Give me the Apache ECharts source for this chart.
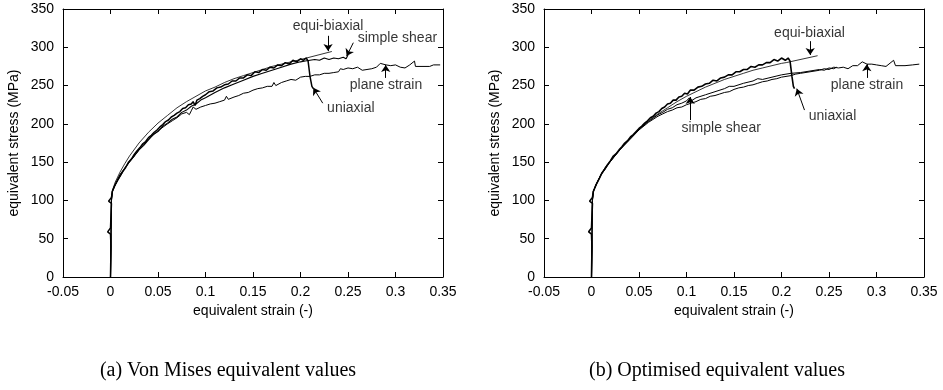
<!DOCTYPE html>
<html><head><meta charset="utf-8">
<script src="https://cdn.jsdelivr.net/npm/echarts@6/dist/echarts.min.js"></script>
<style>html,body{margin:0;padding:0;background:#fff}#c{width:943px;height:390px}</style>
</head><body><div id="c"></div>
<script>
// ---- axis ticks ----
var xTicks = [-0.05, 0, 0.05, 0.1, 0.15, 0.2, 0.25, 0.3, 0.35];
var yTicks = [0, 50, 100, 150, 200, 250, 300, 350];
var xName = 'equivalent strain (-)';
var yName = 'equivalent stress (MPa)';
var captions = ['(a) Von Mises equivalent values', '(b) Optimised equivalent values'];
var curveNames = ['uniaxial', 'equi-biaxial', 'simple shear', 'plane strain'];

// ---- (a) Von Mises equivalent values : [strain, stress] ----
var vmUniaxial = [[0,0],[0.0005,40],[0,56],[-0.003,59],[0,64],[0.001,96],[-0.002,99],[0.001,104],[0.002,112],[0.004,118],[0.006,123],[0.008,128],[0.01,132],[0.013,138],[0.016,143],[0.019,150],[0.022,154],[0.025,160],[0.028,165],[0.031,169],[0.034,174],[0.037,177],[0.04,182],[0.043,185],[0.046,189],[0.049,192],[0.052,196],[0.055,199],[0.058,203],[0.061,205],[0.064,209],[0.067,211],[0.07,214],[0.073,216],[0.076,220],[0.079,221],[0.082,225],[0.085,226],[0.087,229],[0.089,224],[0.091,231],[0.094,233],[0.097,236],[0.1,238],[0.104,242],[0.108,243],[0.112,247],[0.116,248],[0.12,251],[0.124,252],[0.128,256],[0.132,256],[0.136,260],[0.14,260],[0.144,264],[0.148,263],[0.152,268],[0.156,267],[0.16,271],[0.164,270],[0.168,274],[0.172,273],[0.176,277],[0.18,276],[0.184,280],[0.188,278],[0.192,283],[0.196,281],[0.2,285],[0.203,283],[0.206,286],[0.208,282],[0.21,262],[0.212,249],[0.2135,246]];
var vmEquibiaxial = [[0,0],[0.001,100],[0.002,113],[0.005,124],[0.01,137],[0.015,148],[0.02,158],[0.03,175],[0.04,189],[0.05,201],[0.06,211],[0.07,221],[0.08,229],[0.09,236],[0.1,243],[0.11,248],[0.12,254],[0.13,259],[0.14,263],[0.15,267],[0.16,271],[0.17,275],[0.18,278],[0.19,281],[0.2,284],[0.233,294.5]];
var vmShear = [[0,0],[0.001,100],[0.002,112],[0.005,121],[0.01,131],[0.015,142],[0.02,151],[0.025,158],[0.03,166],[0.035,172],[0.04,179],[0.045,186],[0.05,190],[0.055,197],[0.06,201],[0.065,206],[0.07,209],[0.075,215],[0.08,218],[0.085,223],[0.09,226],[0.095,231],[0.1,234],[0.11,241],[0.12,247],[0.13,252],[0.14,257],[0.15,262],[0.16,266],[0.17,270],[0.18,274],[0.19,278],[0.2,281],[0.205,282],[0.21,283],[0.215,284],[0.22,283],[0.225,286],[0.23,284],[0.235,286],[0.24,285],[0.245,287],[0.248,285],[0.25,290]];
var vmPlane = [[0,0],[0.001,100],[0.002,112],[0.01,134],[0.02,150],[0.03,166],[0.04,180],[0.05,191],[0.06,200],[0.065,204],[0.07,208],[0.075,213],[0.08,215],[0.083,212],[0.085,217],[0.087,222],[0.09,219],[0.095,222],[0.1,224],[0.105,226],[0.11,227],[0.115,229],[0.12,231],[0.122,236],[0.124,232],[0.13,235],[0.135,237],[0.14,240],[0.145,241],[0.15,244],[0.155,246],[0.16,247],[0.165,249],[0.17,249],[0.172,254],[0.174,250],[0.18,254],[0.185,256],[0.19,258],[0.195,257],[0.2,261],[0.205,262],[0.21,262],[0.215,264],[0.22,264],[0.225,266],[0.23,266],[0.235,267],[0.24,268],[0.242,272],[0.245,271],[0.25,273],[0.255,272],[0.26,274],[0.265,270],[0.27,271],[0.275,272],[0.28,274],[0.284,279],[0.29,277],[0.295,276],[0.3,277],[0.305,274],[0.31,273],[0.315,277],[0.32,282],[0.321,275],[0.33,275],[0.336,275],[0.34,277],[0.347,277]];

// ---- (b) Optimised equivalent values : [strain, stress] ----
var opUniaxial = [[0,0],[0.0005,40],[0,56],[-0.003,59],[0,64],[0.001,96],[-0.002,99],[0.001,104],[0.002,112],[0.005,121],[0.008,128],[0.011,136],[0.014,141],[0.017,147],[0.02,152],[0.023,158],[0.026,161],[0.029,166],[0.032,170],[0.035,175],[0.038,178],[0.041,183],[0.044,186],[0.047,190],[0.05,194],[0.053,197],[0.056,201],[0.059,204],[0.062,208],[0.065,210],[0.068,214],[0.071,216],[0.074,220],[0.077,222],[0.08,226],[0.083,227],[0.086,231],[0.089,231],[0.092,235],[0.095,236],[0.098,240],[0.101,239],[0.104,244],[0.108,244],[0.112,248],[0.116,249],[0.12,252],[0.124,253],[0.128,257],[0.132,256],[0.136,260],[0.14,261],[0.144,264],[0.148,264],[0.152,268],[0.156,268],[0.16,271],[0.164,271],[0.168,275],[0.172,274],[0.176,277],[0.18,277],[0.184,280],[0.188,280],[0.192,284],[0.196,282],[0.2,286],[0.204,283],[0.207,286],[0.209,282],[0.211,262],[0.2125,249],[0.2137,246]];
var opEquibiaxial = [[0,0],[0.001,100],[0.002,112],[0.005,121],[0.01,134],[0.02,152],[0.03,167],[0.04,180],[0.05,193],[0.06,204],[0.07,213],[0.08,221],[0.09,229],[0.1,236],[0.11,242],[0.12,248],[0.13,253],[0.14,258],[0.15,262],[0.16,266],[0.17,270],[0.18,273],[0.19,276],[0.2,279],[0.205,280],[0.238,289]];
var opShear = [[0,0],[0.001,100],[0.002,112],[0.005,121],[0.01,134],[0.015,144],[0.02,151],[0.025,159],[0.03,167],[0.04,180],[0.05,193],[0.06,203],[0.07,212],[0.075,215],[0.08,219],[0.085,221],[0.09,225],[0.095,227],[0.1,230],[0.103,234],[0.105,230],[0.11,234],[0.12,238],[0.13,242],[0.14,246],[0.145,249],[0.15,249],[0.16,253],[0.17,256],[0.175,259],[0.18,258],[0.19,261],[0.2,264],[0.21,266],[0.22,267],[0.23,269],[0.24,271],[0.245,270],[0.25,273],[0.255,272],[0.258,274]];
var opPlane = [[0,0],[0.001,100],[0.002,112],[0.005,121],[0.01,133],[0.02,151],[0.03,166],[0.04,179],[0.05,192],[0.06,202],[0.07,210],[0.075,213],[0.08,216],[0.085,218],[0.09,221],[0.095,222],[0.1,225],[0.105,227],[0.11,229],[0.115,232],[0.12,233],[0.125,236],[0.13,237],[0.135,239],[0.14,241],[0.145,242],[0.15,245],[0.155,247],[0.16,248],[0.165,250],[0.17,251],[0.175,253],[0.18,255],[0.185,256],[0.19,258],[0.195,259],[0.2,261],[0.21,263],[0.215,265],[0.22,266],[0.23,268],[0.24,270],[0.245,272],[0.25,271],[0.255,274],[0.26,273],[0.265,274],[0.27,272],[0.275,276],[0.28,276],[0.285,281],[0.29,278],[0.295,278],[0.3,277],[0.305,276],[0.31,275],[0.318,283],[0.32,276],[0.33,276],[0.338,277],[0.345,278]];

// ---- annotations: label anchor and arrow (tail -> head) in data units ----
var notesA = [
  {text:'equi-biaxial', at:[0.229,327], from:[0.229,315], to:[0.229,295]},
  {text:'simple shear', at:[0.302,312], from:[0.2556,306], to:[0.2486,288.5]},
  {text:'plane strain', at:[0.29,250], from:[0.2897,260], to:[0.2897,277]},
  {text:'uniaxial', at:[0.253,220], from:[0.2234,227], to:[0.2135,247]}
];
var notesB = [
  {text:'equi-biaxial', at:[0.2295,318], from:[0.2302,308], to:[0.2302,290]},
  {text:'plane strain', at:[0.29,250], from:[0.2898,260], to:[0.2898,278]},
  {text:'uniaxial', at:[0.2537,210], from:[0.2242,218], to:[0.2161,246]},
  {text:'simple shear', at:[0.1365,195], from:[0.1039,205], to:[0.1039,235]}
];

var SANS = "'Liberation Sans', Arial, Helvetica, sans-serif";
var SERIF = "'Liberation Serif', 'Times New Roman', serif";
var chart = echarts.init(document.getElementById('c'), null, {renderer:'canvas'});

function fmt(v){ return String(Math.round(v*100)/100); }
function xAx(g, pos){
  var o = {gridIndex:g, type:'value', position:pos, min:xTicks[0], max:xTicks[xTicks.length-1],
    interval:xTicks[1]-xTicks[0],
    axisLine:{show:true, onZero:false, lineStyle:{color:'#000', width:1}},
    axisTick:{show:true, inside:true, length:5, lineStyle:{color:'#000', width:1}},
    axisLabel:{show:pos==='bottom', color:'#000', fontSize:14, fontFamily:SANS, margin:8, formatter:fmt},
    splitLine:{show:false}};
  if(pos==='bottom'){ o.name=xName; o.nameLocation='middle'; o.nameGap=26;
    o.nameTextStyle={color:'#000', fontSize:14, fontFamily:SANS}; }
  return o;
}
function yAx(g, pos){
  var o = {gridIndex:g, type:'value', position:pos, min:yTicks[0], max:yTicks[yTicks.length-1],
    interval:yTicks[1]-yTicks[0],
    axisLine:{show:true, onZero:false, lineStyle:{color:'#000', width:1}},
    axisTick:{show:true, inside:true, length:5, lineStyle:{color:'#000', width:1}},
    axisLabel:{show:pos==='left', color:'#000', fontSize:14, fontFamily:SANS, margin:9},
    splitLine:{show:false}};
  if(pos==='left'){ o.name=yName; o.nameLocation='middle'; o.nameGap=42;
    o.nameTextStyle={color:'#000', fontSize:14, fontFamily:SANS}; }
  return o;
}
function line(name, data, xi, w){
  return {type:'line', name:name, xAxisIndex:xi, yAxisIndex:xi, data:data, showSymbol:false,
    symbol:'none', smooth:false, lineStyle:{color:'#000', width:w}, z:3, silent:true};
}
function notes(list, xi){
  return {type:'scatter', xAxisIndex:xi, yAxisIndex:xi, symbolSize:0, silent:true, z:5,
    data:list.map(function(n){ return {name:n.text, value:n.at}; }),
    label:{show:true, position:'inside', formatter:'{b}', color:'#000', fontSize:14, fontFamily:SANS},
    markLine:{silent:true, animation:false, symbolSize:7,
      lineStyle:{color:'#000', width:1, type:'solid'}, label:{show:false},
      data:list.map(function(n){ return [{coord:n.from, symbol:'none'}, {coord:n.to, symbol:'arrow'}]; })}
  };
}

chart.setOption({
  animation:false,
  backgroundColor:'#fff',
  grid:[{left:63, right:500, top:9, bottom:113}, {left:544, right:19, top:9, bottom:113}],
  xAxis:[xAx(0,'bottom'), xAx(0,'top'), xAx(1,'bottom'), xAx(1,'top')],
  yAxis:[yAx(0,'left'), yAx(0,'right'), yAx(1,'left'), yAx(1,'right')],
  series:[
    line(curveNames[0], vmUniaxial, 0, 1.5),
    line(curveNames[1], vmEquibiaxial, 0, 0.8),
    line(curveNames[2], vmShear, 0, 1.1),
    line(curveNames[3], vmPlane, 0, 1),
    line(curveNames[0], opUniaxial, 2, 1.6),
    line(curveNames[1], opEquibiaxial, 2, 0.8),
    line(curveNames[2], opShear, 2, 1),
    line(curveNames[3], opPlane, 2, 1),
    notes(notesA, 0),
    notes(notesB, 2)
  ],
  graphic:[
    {type:'text', x:228, y:371, style:{text:captions[0], font:'20px '+SERIF, fill:'#000', textAlign:'center', textVerticalAlign:'middle'}},
    {type:'text', x:717, y:371, style:{text:captions[1], font:'20px '+SERIF, fill:'#000', textAlign:'center', textVerticalAlign:'middle'}}
  ]
});
</script></body></html>
